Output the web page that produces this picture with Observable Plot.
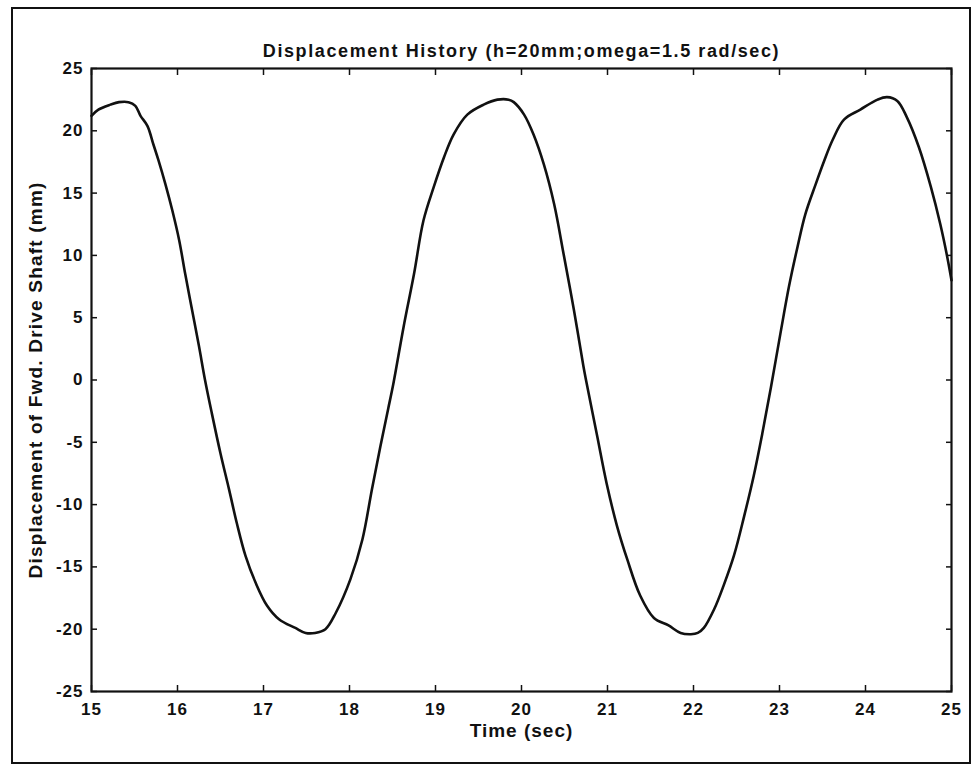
<!DOCTYPE html>
<html>
<head>
<meta charset="utf-8">
<script src="https://cdn.jsdelivr.net/npm/d3@7"></script>
<script src="https://cdn.jsdelivr.net/npm/@observablehq/plot@0.6"></script>
<style>
  html, body { margin: 0; padding: 0; background: #fff; }
  #wrap { position: relative; width: 972px; height: 765px; overflow: hidden; }
  #border { position: absolute; left: 11px; top: 7px; width: 956px; height: 753px; border: 2.5px solid #111; pointer-events: none; }
  #chart { position: absolute; left: 0; top: 0; }
</style>
</head>
<body>
<div id="wrap"><div id="chart"></div><div id="border"></div></div>
<script>
const titleText = "Displacement History (h=20mm;omega=1.5 rad/sec)";
const xLabelText = "Time (sec)";
const yLabelText = "Displacement of Fwd. Drive Shaft (mm)";
const xTicks = [15, 16, 17, 18, 19, 20, 21, 22, 23, 24, 25];
const yTicks = [-25, -20, -15, -10, -5, 0, 5, 10, 15, 20, 25];

const time = [
  15.00, 15.08, 15.22, 15.32, 15.43, 15.51, 15.57, 15.65, 15.72, 15.78,
  15.86, 15.94, 16.02, 16.09, 16.17, 16.25, 16.32, 16.40, 16.50, 16.60,
  16.69, 16.79, 16.91, 17.04, 17.18, 17.37, 17.49, 17.60, 17.72, 17.84,
  18.01, 18.15, 18.26, 18.36, 18.45, 18.51, 18.63, 18.75, 18.86, 18.98,
  19.10, 19.21, 19.37, 19.56, 19.72, 19.85, 19.91, 20.03, 20.14, 20.26,
  20.38, 20.49, 20.61, 20.72, 20.75, 20.88, 20.99, 21.11, 21.23, 21.38,
  21.54, 21.71, 21.85, 21.97, 22.05, 22.12, 22.24, 22.35, 22.47, 22.59,
  22.70, 22.80, 22.90, 23.01, 23.11, 23.21, 23.30, 23.42, 23.52, 23.62,
  23.75, 23.94, 24.14, 24.25, 24.37, 24.48, 24.62, 24.76, 24.87, 24.95,
  25.00
];
const displacement = [
  21.2, 21.7, 22.1, 22.3, 22.3, 22.0, 21.2, 20.4, 18.9, 17.6,
  15.7, 13.6, 11.2, 8.5, 5.6, 2.7, 0.0, -2.7, -5.9, -8.8,
  -11.5, -14.1, -16.3, -18.1, -19.2, -19.9, -20.3, -20.3, -20.0, -18.7,
  -16.0, -12.8, -8.8, -5.3, -2.3, -0.3, 4.3, 8.5, 12.8, 15.5,
  17.9, 19.7, 21.3, 22.1, 22.5, 22.5, 22.3, 21.3, 19.7, 17.3,
  14.1, 10.1, 5.6, 1.1, 0.0, -4.5, -8.3, -11.7, -14.4, -17.3,
  -19.1, -19.7, -20.3, -20.4, -20.3, -19.9, -18.4, -16.5, -14.1, -10.9,
  -7.7, -4.3, -0.6, 3.7, 7.5, 10.7, 13.3, 15.7, 17.6, 19.3,
  20.9, 21.7, 22.5, 22.7, 22.4, 21.1, 18.7, 15.5, 12.5, 9.9,
  8.0
];

const data = time.map((t, i) => ({t, v: displacement[i]}));

const chart = Plot.plot({
  width: 972,
  height: 765,
  marginLeft: 91,
  marginRight: 21,
  marginTop: 68,
  marginBottom: 74,
  style: {fontFamily: "'Liberation Sans', Arial, sans-serif", fontWeight: "bold", fontSize: "17px", color: "#111", background: "transparent"},
  x: {domain: [15, 25]},
  y: {domain: [-25, 25]},
  marks: [
    Plot.axisX({anchor: "bottom", ticks: xTicks, tickSize: 0, tickPadding: 11, tickFormat: d => String(d), label: null}),
    Plot.axisY({anchor: "left", ticks: yTicks, tickSize: 0, tickPadding: 8, tickFormat: d => String(d), label: null}),
    Plot.axisX({anchor: "bottom", ticks: xTicks, tickSize: -6, tickFormat: () => "", label: null, strokeWidth: 1.5}),
    Plot.axisX({anchor: "top", ticks: xTicks, tickSize: -6, tickFormat: () => "", label: null, strokeWidth: 1.5}),
    Plot.axisY({anchor: "left", ticks: yTicks, tickSize: -6, tickFormat: () => "", label: null, strokeWidth: 1.5}),
    Plot.axisY({anchor: "right", ticks: yTicks, tickSize: -6, tickFormat: () => "", label: null, strokeWidth: 1.5}),
    Plot.frame({stroke: "#111", strokeWidth: 2.2}),
    Plot.line(data, {x: "t", y: "v", stroke: "#111", strokeWidth: 2.6, curve: "catmull-rom"}),
    Plot.text([titleText], {frameAnchor: "top", dy: -24, fontSize: 18, fontWeight: "bold", fill: "#111", textAnchor: "middle"}),
    Plot.text([xLabelText], {frameAnchor: "bottom", dy: 45, fontSize: 19, fontWeight: "bold", fill: "#111", textAnchor: "middle"}),
    Plot.text([yLabelText], {frameAnchor: "left", dx: -56, rotate: -90, fontSize: 19, fontWeight: "bold", fill: "#111", textAnchor: "middle"})
  ]
});
document.getElementById("chart").appendChild(chart);
const svg = d3.select(chart);
const spacing = new Map([[titleText, "1.6px"], [xLabelText, "1px"], [yLabelText, "1.2px"]]);
svg.selectAll("text").each(function () {
  const s = this.textContent;
  if (spacing.has(s)) this.setAttribute("letter-spacing", spacing.get(s));
});
svg.selectAll('g[aria-label="x-axis tick label"] text, g[aria-label="y-axis tick label"] text').attr("letter-spacing", "1px");
</script>
</body>
</html>
